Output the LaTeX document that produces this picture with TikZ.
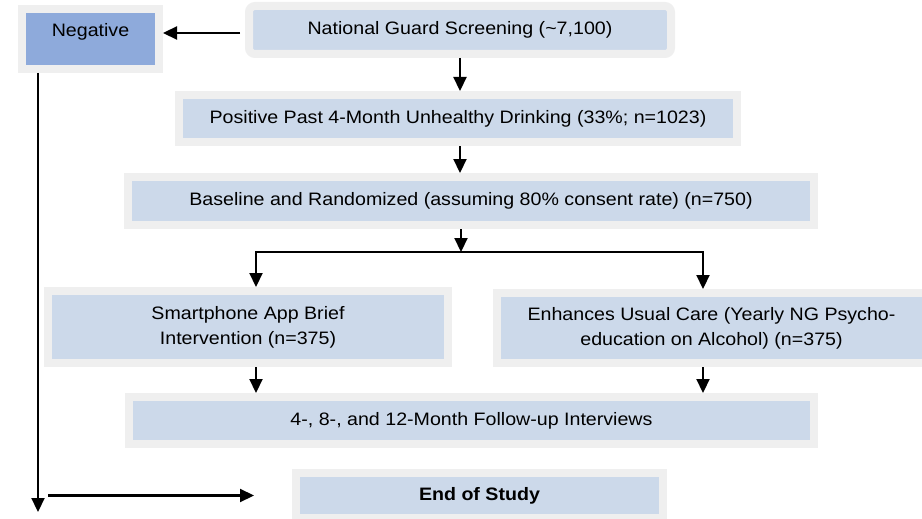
\documentclass[tikz,border=0pt]{standalone}
\usepackage{fontspec}
\setmainfont{Liberation Sans}[FakeStretch=1.09]
\usetikzlibrary{arrows.meta}
\definecolor{framegray}{HTML}{EFEFEF}
\definecolor{boxblue}{HTML}{CCD9EA}
\definecolor{negblue}{HTML}{8EAADB}

\begin{document}
\begin{tikzpicture}[x=1pt,y=-1pt,
	every node/.style={font=\fontsize{18}{25}\selectfont},
	box/.style={fill=boxblue,draw=framegray,line width=8pt,inner sep=0pt,align=center},
	arr/.style={line width=2.2pt,-{Triangle[length=14pt,width=13pt]}},
	link/.style={line width=2.2pt,line cap=rect}]
					\useasboundingbox (0,0) rectangle (922,519); % page size
					
					% Boxes of the flow
					\node[box,fill=negblue,minimum width=137pt,minimum height=60pt,text height=12pt,text depth=16pt] (neg) at (90.5,39) {Negative};
					\node[box,rounded corners=6pt,minimum width=422pt,minimum height=48pt] (ng) at (460,30) {National Guard Screening (\textasciitilde7,100)};
					\node[box,minimum width=558pt,minimum height=47pt] (pos) at (458,118.5) {Positive Past 4-Month Unhealthy Drinking (33\%; n=1023)};
					\node[box,minimum width=686pt,minimum height=48pt] (base) at (471,201) {Baseline and Randomized (assuming 80\% consent rate) (n=750)};
					\node[box,minimum width=400pt,minimum height=72pt] (app) at (248,327) {Smartphone App Brief\\Intervention (n=375)};
					\node[box,minimum width=429pt,minimum height=70pt] (euc) at (711.5,328) {Enhances Usual Care (Yearly NG Psycho-\\education on Alcohol) (n=375)};
					\node[box,minimum width=685pt,minimum height=47pt] (fu) at (471.5,420.5) {4-, 8-, and 12-Month Follow-up Interviews};
					\node[box,minimum width=367pt,minimum height=45pt,font=\fontsize{18}{25}\selectfont\bfseries] (end) at (479.5,495.5) {End of Study};
					
					% Split points under the randomization
					\coordinate (split) at (461,252);
					\coordinate (splitl) at (256,252);
					\coordinate (splitr) at (703,252);
					\coordinate (negfoot) at (38,512); % foot of the negative line
					\coordinate (endtail) at (48,495.5);
					
					% Connectors
					\draw[arr] ([xshift=-5pt,yshift=-3pt]ng.west) -- ([yshift=-3pt]ng.west -| neg.east);
					\draw[arr] (ng.south) -- (ng.south |- pos.north);
					\draw[arr] (pos.south -| ng.south) -- (ng.south |- base.north);
					\draw[arr] (base.south -| split) -- (split);
					\draw[link] (splitl) -- (splitr);
					\draw[arr] (splitl) -- (splitl |- app.north);
					\draw[arr] (splitr) -- (splitr |- euc.north);
					\draw[arr] (app.south -| splitl) -- (splitl |- fu.north);
					\draw[arr] (euc.south -| splitr) -- (splitr |- fu.north);
					\draw[arr] (neg.south -| negfoot) -- (negfoot);
					\draw[arr] (endtail) -- ([xshift=-38pt]end.west);
				\end{tikzpicture}
\end{document}
